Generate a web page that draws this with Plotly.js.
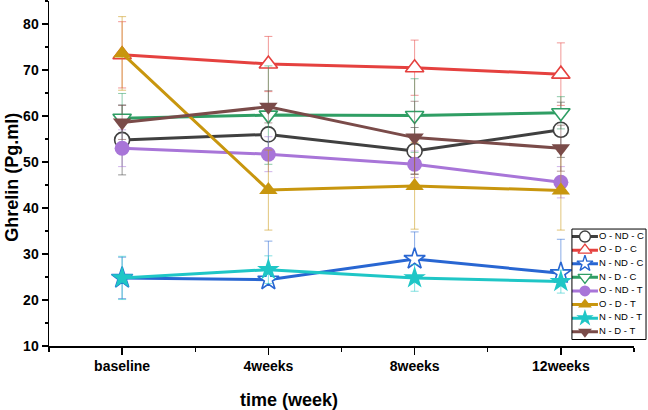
<!DOCTYPE html>
<html>
<head>
<meta charset="utf-8">
<script src="https://cdn.plot.ly/plotly-3.0.1.min.js"></script>
<style>
  body { margin: 0; background: #fff; }
  #chart { width: 648px; height: 410px; }
</style>
</head>
<body>
<div id="chart"></div>
<script>
// time points
var weeks = ['baseline', '4weeks', '8weeks', '12weeks'];

// group names (legend order)
var groups = ['O - ND - C', 'O - D - C', 'N - ND - C', 'N - D - C',
              'O - ND - T', 'O - D - T', 'N - ND - T', 'N - D - T'];

// mean ghrelin values per group
var oNdC = [54.8, 56.0, 52.4, 57.0];
var oDC  = [73.3, 71.3, 70.5, 69.1];
var nNdC = [24.8, 24.4, 28.9, 25.8];
var nDC  = [59.5, 60.2, 60.1, 60.7];
var oNdT = [53.0, 51.7, 49.5, 45.6];
var oDT  = [73.6, 43.9, 44.8, 43.8];
var nNdT = [24.8, 26.6, 24.8, 24.0];
var nDT  = [58.6, 62.0, 55.3, 53.0];

// error bars (SD), upper and lower
var oNdCErr = [7.6, 5.4, 5.1, 6.0];
var oDCErr  = [7.2, 6.0, 6.0, 6.8];
var nNdCErr = [4.5, 8.4, 5.9, 7.4];
var nDCErr  = [5.4, 10.7, 8.0, 3.5];
var oNdTErr = [4.0, 3.8, 2.9, 3.4];
var oDTErr  = [8.0, 8.7, 9.4, 8.6];
var nNdTErr = [4.7, 3.0, 2.9, 2.5];
var nDTErr  = [3.7, 3.5, 7.9, 5.0];
var nNdCErrLow = [4.5, 0, 0, 0];

var values = [oNdC, oDC, nNdC, nDC, oNdT, oDT, nNdT, nDT];
var errors = [oNdCErr, oDCErr, nNdCErr, nDCErr, oNdTErr, oDTErr, nNdTErr, nDTErr];
var errorsLow = [oNdCErr, oDCErr, nNdCErrLow, nDCErr, oNdTErr, oDTErr, nNdTErr, nDTErr];

var colors  = ['#404040', '#e5413f', '#2866d2', '#2f9e64', '#a875d8', '#c8960e', '#1fc6c6', '#7a4b49'];
var errCols = ['rgba(64,64,64,0.55)', 'rgba(229,65,63,0.55)', 'rgba(40,102,210,0.55)', 'rgba(47,158,100,0.55)',
               'rgba(168,117,216,0.55)', 'rgba(200,150,14,0.55)', 'rgba(31,198,198,0.55)', 'rgba(122,75,73,0.55)'];
var symbols = ['circle', 'triangle-up', 'star', 'triangle-down',
               'circle', 'triangle-up', 'star', 'triangle-down'];
var hollow  = [true, true, true, true, false, false, false, false];
var sizes   = [15, 16, 16, 16, 15, 16, 17, 16];

var xIdx = weeks.map(function (w, i) { return i; });
var data = [];

values.forEach(function (v, i) {
  data.push({
    x: xIdx,
    y: v,
    type: 'scatter',
    mode: 'lines+markers',
    name: groups[i],
    showlegend: false,
    line: { color: colors[i], width: 3 },
    marker: {
      symbol: symbols[i],
      size: sizes[i],
      color: hollow[i] ? '#ffffff' : colors[i],
      line: { color: colors[i], width: hollow[i] ? 1.6 : 0 }
    },
    error_y: {
      type: 'data', symmetric: false, array: errors[i], arrayminus: errorsLow[i],
      visible: true, color: errCols[i], thickness: 1, width: 4
    }
  });
});

// hand-made legend on its own small axes
groups.forEach(function (g, i) {
  var yy = 103 - 13.6 * i;
  data.push({
    x: [0, 13, 26], y: [yy, yy, yy],
    xaxis: 'x2', yaxis: 'y2',
    type: 'scatter', mode: 'lines',
    line: { color: colors[i], width: 3 },
    showlegend: false, hoverinfo: 'skip'
  });
  data.push({
    x: [13], y: [yy],
    xaxis: 'x2', yaxis: 'y2',
    type: 'scatter', mode: 'markers',
    marker: {
      symbol: symbols[i], size: sizes[i] - 4,
      color: hollow[i] ? '#ffffff' : colors[i],
      line: { color: colors[i], width: hollow[i] ? 1.4 : 0 }
    },
    showlegend: false, hoverinfo: 'skip'
  });
  data.push({
    x: [27], y: [yy],
    xaxis: 'x2', yaxis: 'y2',
    type: 'scatter', mode: 'text',
    text: [g], textposition: 'middle right',
    cliponaxis: false,
    textfont: { family: 'Liberation Sans, Arial', size: 9.5, color: '#000' },
    showlegend: false, hoverinfo: 'skip'
  });
});

var tickFont = { family: 'Liberation Sans, Arial', size: 14, color: '#000', weight: 'bold' };

var layout = {
  width: 648,
  height: 410,
  margin: { l: 49, r: 0, t: 1, b: 64 },
  paper_bgcolor: '#fff',
  plot_bgcolor: '#fff',
  showlegend: false,
  xaxis: {
    domain: [0, 0.9766],
    range: [-0.5, 3.5],
    tickmode: 'array',
    tickvals: xIdx,
    ticktext: weeks,
    ticks: 'outside',
    ticklen: 7,
    tickwidth: 1.5,
    tickcolor: '#000',
    showline: true,
    linecolor: '#000',
    linewidth: 1.5,
    showgrid: false,
    zeroline: false,
    tickfont: tickFont,
    minor: { tickmode: 'array', tickvals: [-0.5, 0.5, 1.5, 2.5, 3.5], ticks: 'outside', ticklen: 4, tickwidth: 1.5, tickcolor: '#000' }
  },
  yaxis: {
    range: [10, 85],
    tick0: 10,
    dtick: 10,
    ticks: 'outside',
    ticklen: 6,
    tickwidth: 1.5,
    tickcolor: '#000',
    showline: true,
    linecolor: '#000',
    linewidth: 1.5,
    showgrid: false,
    zeroline: false,
    tickfont: tickFont,
    minor: { dtick: 5, ticks: 'outside', ticklen: 3, tickwidth: 1.5, tickcolor: '#000' }
  },
  xaxis2: {
    domain: [0.873, 0.9967], range: [0, 74], anchor: 'y2',
    visible: false, fixedrange: true
  },
  yaxis2: {
    domain: [0.0188, 0.339], range: [0, 110.5], anchor: 'x2',
    visible: false, fixedrange: true
  },
  shapes: [{
    type: 'rect', xref: 'x2 domain', yref: 'y2 domain',
    x0: 0, x1: 1, y0: 0, y1: 1,
    line: { color: '#000', width: 1 }, fillcolor: 'rgba(0,0,0,0)'
  }],
  annotations: [
    {
      text: 'time (week)', xref: 'paper', yref: 'paper',
      x: 0.4007, y: -0.157, xanchor: 'center', yanchor: 'middle',
      showarrow: false,
      font: { family: 'Liberation Sans, Arial', size: 18, color: '#000', weight: 'bold' }
    },
    {
      text: 'Ghrelin (Pg.ml)', xref: 'paper', yref: 'paper',
      x: -0.062, y: 0.49, xanchor: 'center', yanchor: 'middle',
      textangle: -90, showarrow: false,
      font: { family: 'Liberation Sans, Arial', size: 18, color: '#000', weight: 'bold' }
    }
  ]
};

Plotly.newPlot('chart', data, layout, { displayModeBar: false, staticPlot: true });
</script>
</body>
</html>
